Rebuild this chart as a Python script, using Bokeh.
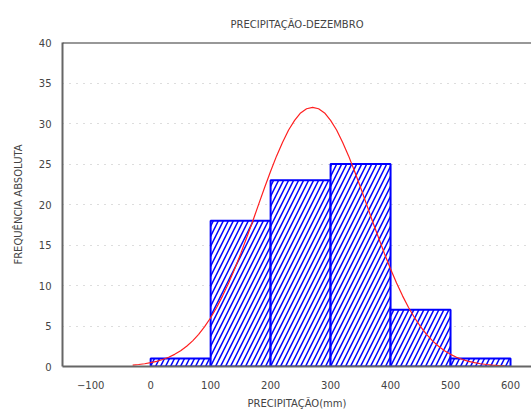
from bokeh.plotting import figure
from bokeh.models import Range1d, FixedTicker, Span
from bokeh.embed import file_html
from bokeh.resources import INLINE

# Histogram data (class limits in mm, absolute frequency)
bin_left = [0, 100, 200, 300, 400, 500]
bin_right = [100, 200, 300, 400, 500, 600]
freq = [1, 18, 23, 25, 7, 1]

# Fitted normal curve
curve_x = [-30, -20, -10, 0, 10, 20, 30, 40, 50, 60, 70, 80, 90, 100, 110, 120,
           130, 140, 150, 160, 170, 180, 190, 200, 210, 220, 230, 240, 250, 260,
           270, 280, 290, 300, 310, 320, 330, 340, 350, 360, 370, 380, 390, 400,
           410, 420, 430, 440, 450, 460, 470, 480, 490, 500, 510, 520, 530, 540,
           550, 560, 570, 580, 590]
curve_y = [0.18, 0.25, 0.34, 0.47, 0.64, 0.86, 1.15, 1.50, 1.95, 2.50, 3.17, 3.97,
           4.92, 6.02, 7.28, 8.72, 10.3, 12.04, 13.9, 15.89, 17.9, 20.02, 22.1,
           24.1, 26.0, 27.69, 29.2, 30.38, 31.3, 31.82, 32.0, 31.82, 31.3, 30.38,
           29.2, 27.69, 26.0, 24.1, 22.1, 20.02, 17.9, 15.89, 13.9, 12.04, 10.3,
           8.72, 7.28, 6.02, 4.92, 3.97, 3.17, 2.50, 1.95, 1.50, 1.15, 0.86, 0.64,
           0.47, 0.34, 0.25, 0.18, 0.12, 0.09]

x_ticks = [-100, 0, 100, 200, 300, 400, 500, 600]
y_ticks = [0, 5, 10, 15, 20, 25, 30, 35, 40]

FONT = "DejaVu Sans"
TXT = "#444444"

p = figure(width=531, height=411, output_backend="svg", toolbar_location=None,
           x_range=Range1d(-147, 635), y_range=Range1d(0, 40),
           min_border_left=62, min_border_right=0, min_border_top=42,
           min_border_bottom=44,
           title="PRECIPITAÇÃO-DEZEMBRO")

p.title.align = "center"
p.title.text_font = FONT
p.title.text_font_size = "10px"
p.title.text_font_style = "normal"
p.title.text_color = TXT
p.title.offset = 0
p.title.standoff = 26

p.outline_line_color = None
p.background_fill_color = "white"

p.quad(left=bin_left, right=bin_right, bottom=0, top=freq,
       fill_color="white", line_color="#0000ff", line_width=2,
       hatch_pattern="/", hatch_color="#0000ff", hatch_scale=10, hatch_weight=1.5)

p.line(curve_x, curve_y, line_color="#ff2020", line_width=1.2)

p.add_layout(Span(location=40, dimension="width", line_color="#333333", line_width=2))

for ax in (p.xaxis[0], p.yaxis[0]):
    ax.axis_line_color = "#666666"
    ax.axis_line_width = 2
    ax.major_tick_line_color = None
    ax.minor_tick_line_color = None
    ax.major_label_text_font = FONT
    ax.major_label_text_font_size = "10px"
    ax.major_label_text_color = TXT
    ax.axis_label_text_font = FONT
    ax.axis_label_text_font_size = "10px"
    ax.axis_label_text_font_style = "normal"
    ax.axis_label_text_color = TXT

p.xaxis.ticker = FixedTicker(ticks=x_ticks)
p.yaxis.ticker = FixedTicker(ticks=y_ticks)
p.xaxis.axis_label = "PRECIPITAÇÃO(mm)"
p.yaxis.axis_label = "FREQUÊNCIA ABSOLUTA"
p.xaxis.major_label_standoff = 8
p.xaxis.axis_label_standoff = 6
p.yaxis.major_label_standoff = 5
p.yaxis.axis_label_standoff = 12

p.xgrid.grid_line_color = None
p.ygrid.grid_line_color = "#bbbbbb"
p.ygrid.grid_line_dash = "1 6"
p.ygrid.grid_line_width = 1

open("out.html", "w").write(file_html(p, INLINE))
